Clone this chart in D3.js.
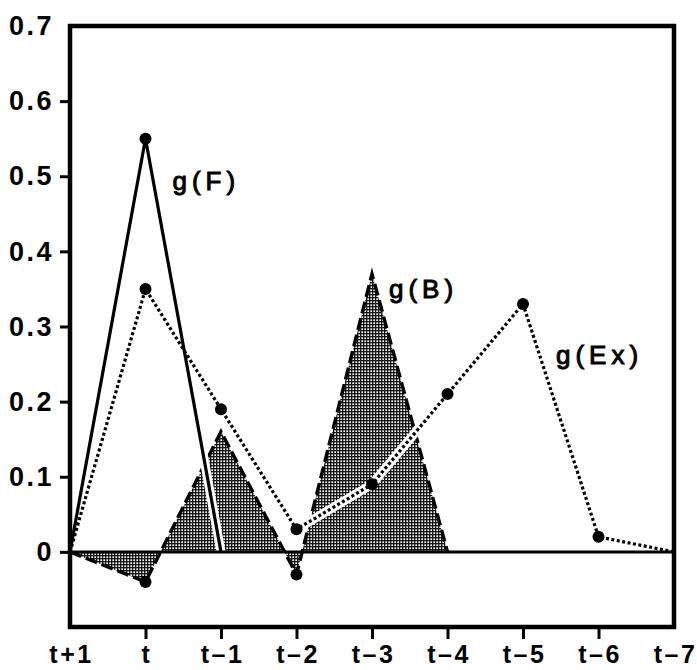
<!DOCTYPE html>
<html>
<head>
<meta charset="utf-8">
<script src="https://cdn.jsdelivr.net/npm/d3@7/dist/d3.min.js"></script>
<style>
  html, body { margin: 0; padding: 0; background: #fff; }
  svg { display: block; }
</style>
</head>
<body>
<svg id="chart" width="697" height="670"></svg>
<script>
// ---- data ----
const lagLabels = ["t+1", "t", "t\u20131", "t\u20132", "t\u20133", "t\u20134", "t\u20135", "t\u20136", "t\u20137"];
const yTicks = [0, 0.1, 0.2, 0.3, 0.4, 0.5, 0.6, 0.7];
const gF  = [0, 0.55, 0, null, null, null, null, null, null];
const gEx = [0, 0.35, 0.19, 0.03, 0.09, 0.21, 0.33, 0.02, 0];
const gB  = [0, -0.04, 0.16, -0.03, 0.37, 0, null, null, null];
const gFDots  = [1];
const gExDots = [1, 2, 3, 4, 5, 6, 7];
const gBDots  = [1, 3];
const seriesLabels = [
  { text: "g(F)",  at: 1, value: 0.55 },
  { text: "g(B)",  at: 4, value: 0.37 },
  { text: "g(Ex)", at: 6, value: 0.33 }
];

(function () {
// ---- layout ----
const svg = d3.select("#chart");
const mLeft = 70, mRight = 674, mTop = 26, mBottom = 627;
const x = d3.scalePoint().domain(lagLabels).range([mLeft, mRight]).padding(0);
const y = d3.scaleLinear().domain([-0.1, 0.7]).range([mBottom, mTop]);
const font = "Liberation Sans, Arial, sans-serif";

// stipple pattern
const defs = svg.append("defs");
const pat = defs.append("pattern").attr("id", "stipple")
  .attr("width", 3).attr("height", 3).attr("patternUnits", "userSpaceOnUse");
pat.append("rect").attr("width", 3).attr("height", 3).attr("fill", "#fff");
pat.append("rect").attr("width", 3).attr("height", 1.35).attr("fill", "#151515");
pat.append("rect").attr("width", 1.35).attr("height", 3).attr("fill", "#151515");

const toPts = arr => arr.map((v, i) => ({ k: lagLabels[i], v }));

// area of g(B)
const area = d3.area()
  .defined(d => d.v !== null)
  .x(d => x(d.k)).y0(y(0)).y1(d => y(d.v));
svg.append("path").datum(toPts(gB)).attr("d", area).attr("fill", "url(#stipple)");

const line = d3.line().defined(d => d.v !== null).x(d => x(d.k)).y(d => y(d.v));

// g(B) dashed
svg.append("path").datum(toPts(gB)).attr("d", line)
  .attr("fill", "none").attr("stroke", "#000").attr("stroke-width", 3.4)
  .attr("stroke-dasharray", "12,5");

// white halos
[gEx, gF].forEach(s => {
  svg.append("path").datum(toPts(s)).attr("d", line)
    .attr("fill", "none").attr("stroke", "#fff").attr("stroke-width", 9);
});

// zero line
svg.append("line").attr("x1", mLeft).attr("x2", mRight)
  .attr("y1", y(0)).attr("y2", y(0))
  .attr("stroke", "#000").attr("stroke-width", 3);

// g(Ex) dotted
svg.append("path").datum(toPts(gEx)).attr("d", line)
  .attr("fill", "none").attr("stroke", "#000").attr("stroke-width", 3.2)
  .attr("stroke-dasharray", "3,2.5");

// g(F) solid
svg.append("path").datum(toPts(gF)).attr("d", line)
  .attr("fill", "none").attr("stroke", "#000").attr("stroke-width", 3.2);

// dots
function dots(arr, idx) {
  svg.append("g").selectAll("circle").data(idx).join("circle")
    .attr("cx", i => x(lagLabels[i])).attr("cy", i => y(arr[i]))
    .attr("r", 6).attr("fill", "#000");
}
dots(gF, gFDots); dots(gEx, gExDots); dots(gB, gBDots);

// axes
const yAxis = d3.axisLeft(y).tickValues(yTicks).tickSize(10).tickPadding(6)
  .tickFormat(d => d === 0 ? "0" : d3.format(".1f")(d));
const gy = svg.append("g").attr("transform", `translate(${mLeft},0)`).call(yAxis);
gy.select(".domain").remove();
gy.selectAll(".tick line").attr("stroke", "#000").attr("stroke-width", 3)
  .filter(d => d === 0.7).remove();
gy.selectAll(".tick text").attr("font-family", font).attr("font-weight", "bold")
  .attr("font-size", 27).attr("letter-spacing", 2.5).attr("fill", "#000");

const xAxis = d3.axisBottom(x).tickSize(12).tickPadding(6);
const gx = svg.append("g").attr("transform", `translate(0,${mBottom})`).call(xAxis);
gx.select(".domain").remove();
gx.selectAll(".tick line").attr("stroke", "#000").attr("stroke-width", 3)
  .filter((d, i) => i === 0 || i === lagLabels.length - 1).remove();
gx.selectAll(".tick text").attr("font-family", font).attr("font-weight", "bold")
  .attr("font-size", 25).attr("letter-spacing", 2.5).attr("dx", 1).attr("fill", "#000");

// frame
svg.append("rect").attr("x", mLeft).attr("y", mTop)
  .attr("width", mRight - mLeft).attr("height", mBottom - mTop)
  .attr("fill", "none").attr("stroke", "#000").attr("stroke-width", 4.5);

// series labels
const offsets = { "g(F)": [27, 51], "g(B)": [17, 24], "g(Ex)": [33, 60] };
svg.append("g").selectAll("text").data(seriesLabels).join("text")
  .attr("x", d => x(lagLabels[d.at]) + offsets[d.text][0])
  .attr("y", d => y(d.value) + offsets[d.text][1])
  .attr("font-family", font).attr("font-size", 26)
  .attr("letter-spacing", 5).attr("fill", "#000")
  .attr("stroke", "#000").attr("stroke-width", 1)
  .text(d => d.text);
})();
</script>
</body>
</html>
